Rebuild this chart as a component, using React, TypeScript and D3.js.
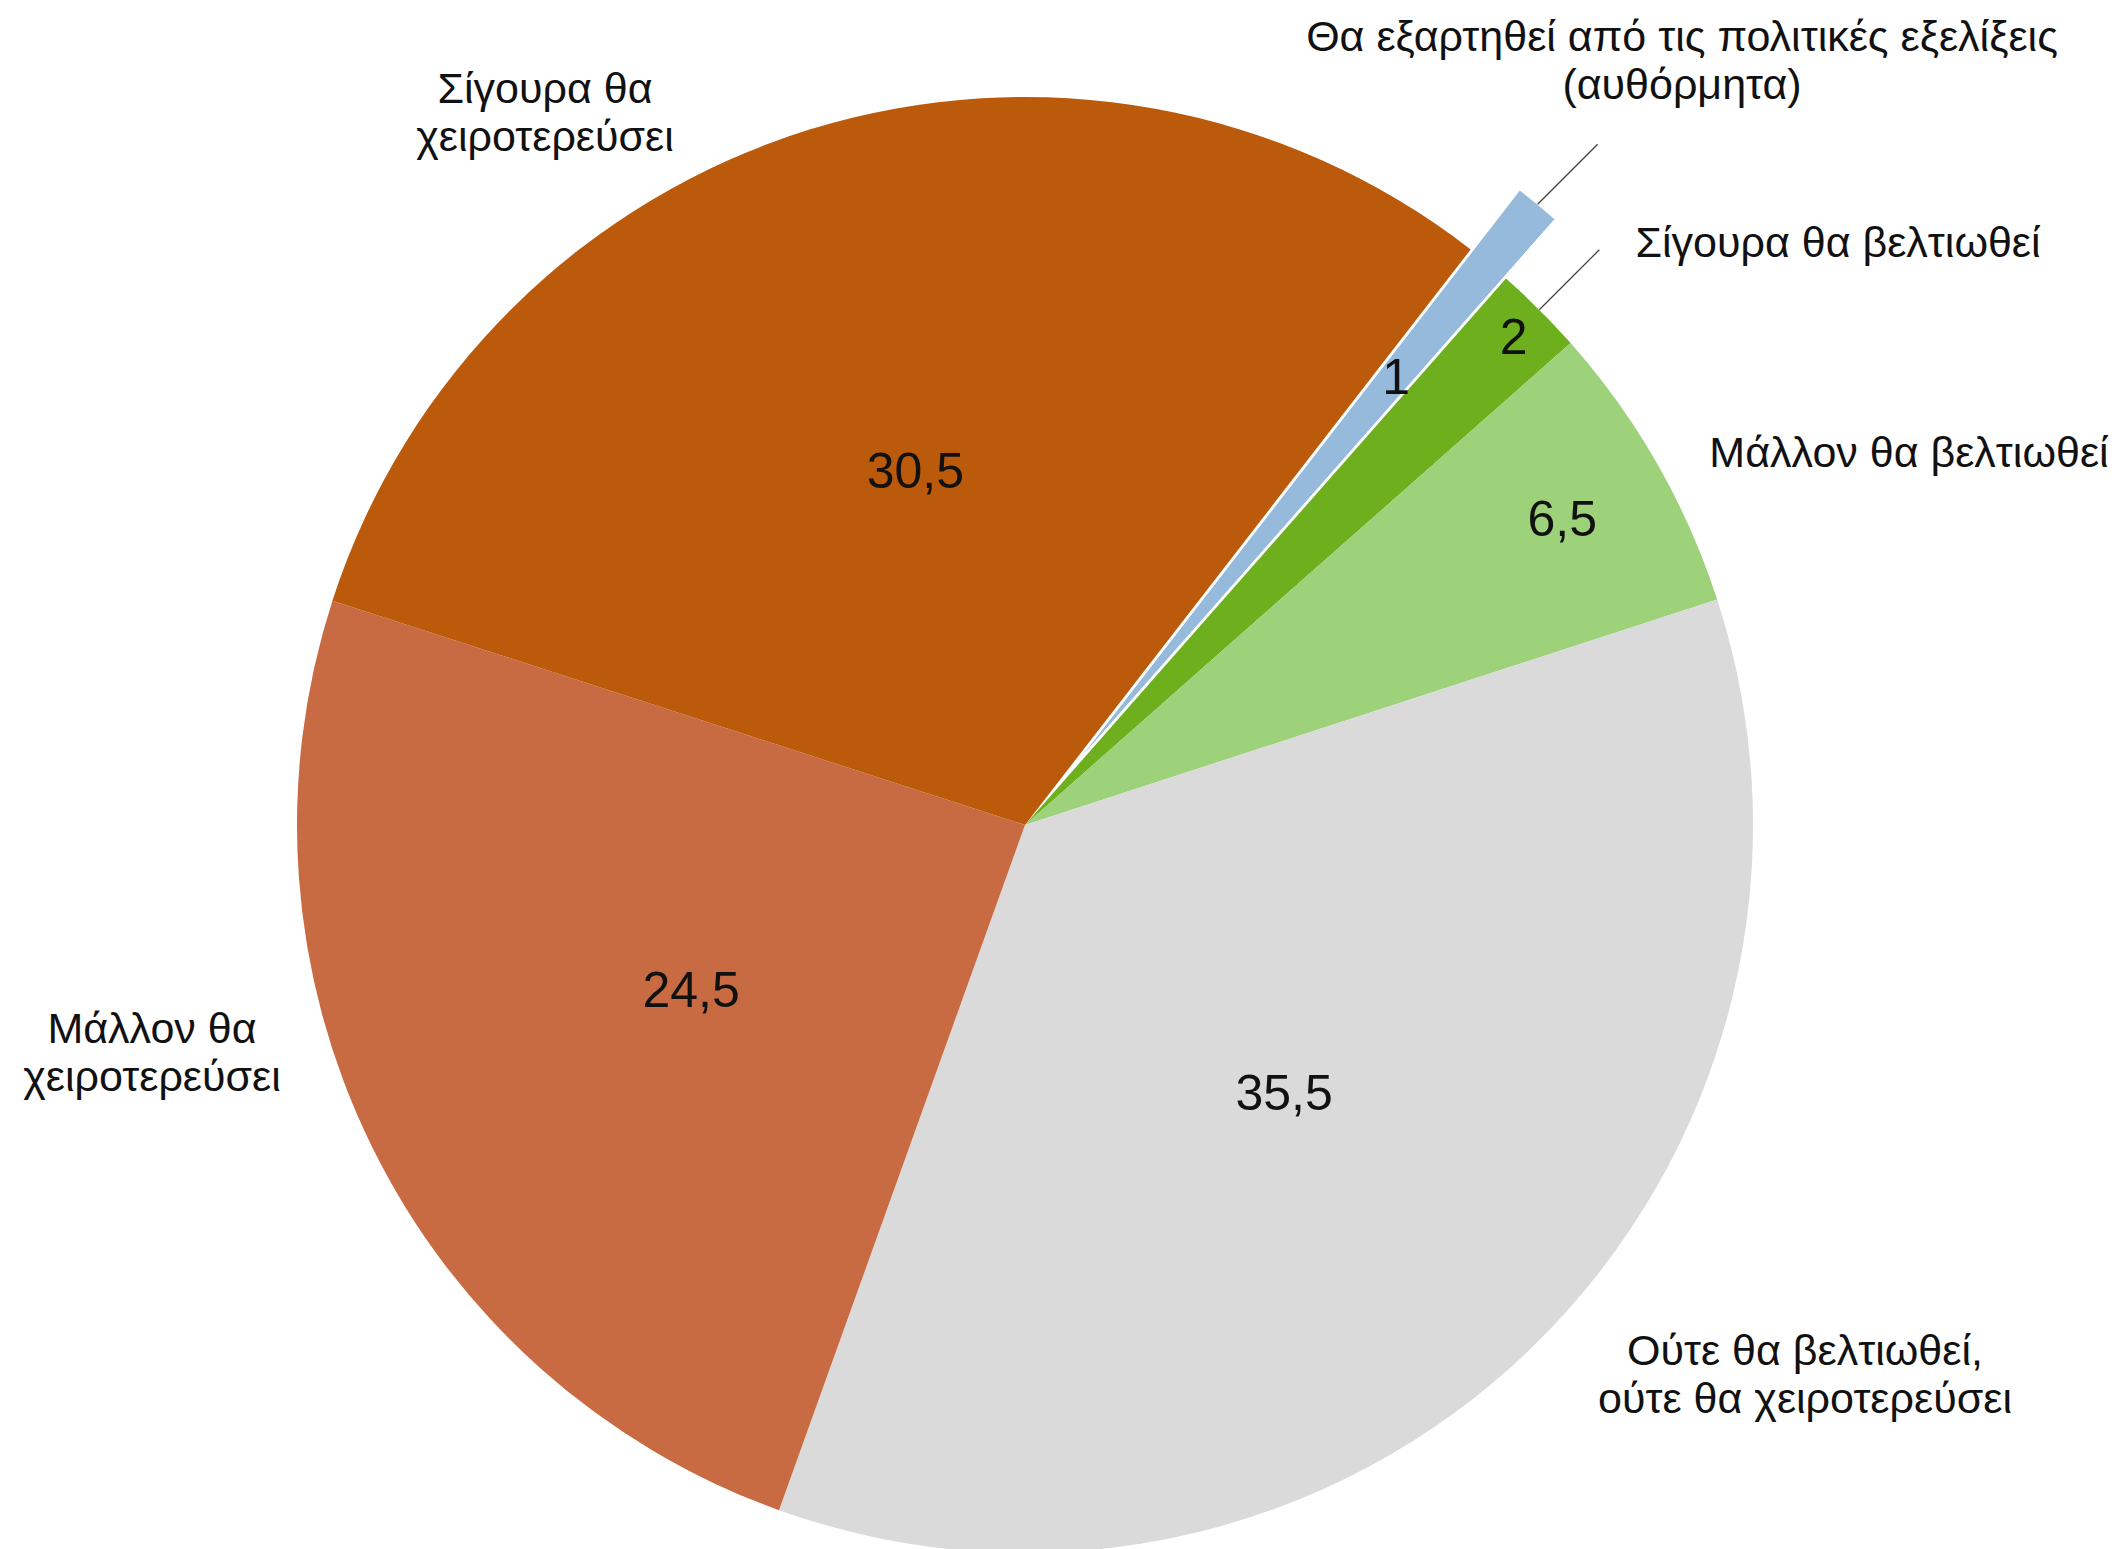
import React from "react";
import * as d3 from "d3";

// ---- data ----
const categories = [
  "Θα εξαρτηθεί από τις πολιτικές εξελίξεις (αυθόρμητα)",
  "Σίγουρα θα βελτιωθεί",
  "Μάλλον θα βελτιωθεί",
  "Ούτε θα βελτιωθεί, ούτε θα χειροτερεύσει",
  "Μάλλον θα χειροτερεύσει",
  "Σίγουρα θα χειροτερεύσει",
];
const values = [1, 2, 6.5, 35.5, 24.5, 30.5];
const valueLabels = ["1", "2", "6,5", "35,5", "24,5", "30,5"];
const categoryLines = [
  ["Θα εξαρτηθεί από τις πολιτικές εξελίξεις", "(αυθόρμητα)"],
  ["Σίγουρα θα βελτιωθεί"],
  ["Μάλλον θα βελτιωθεί"],
  ["Ούτε θα βελτιωθεί,", "ούτε θα χειροτερεύσει"],
  ["Μάλλον θα", "χειροτερεύσει"],
  ["Σίγουρα θα", "χειροτερεύσει"],
];

// ---- styling / layout ----
const colors = ["#96BADB", "#6EAF1E", "#9DD17A", "#DADADA", "#C86B43", "#BC5A0C"];
const explode = [77, 0, 0, 0, 0, 0];
const valueRadius = [0.695, 0.95, 0.85, 0.511, 0.511, 0.511];
const hasLeader = [true, true, false, false, false, false];
const labelPos = [
  { x: 1682, y: 51 },
  { x: 1838, y: 257 },
  { x: 1909, y: 467 },
  { x: 1805, y: 1365 },
  { x: 152, y: 1043 },
  { x: 545, y: 103 },
];

const W = 2121;
const H = 1549;
const cx = 1025;
const cy = 825;
const R = 728;
const startDeg = 37.75;
const FONT = "'Helvetica Neue', 'Liberation Sans', Arial, sans-serif";

export default function App() {
  const pie = d3
    .pie<number>()
    .sort(null)
    .value((d) => d)
    .startAngle((startDeg * Math.PI) / 180)
    .endAngle((startDeg * Math.PI) / 180 + 2 * Math.PI);
  const arcs = pie(values);
  const arc = d3.arc<d3.PieArcDatum<number>>().innerRadius(0).outerRadius(R);

  const mid = (a: d3.PieArcDatum<number>) => (a.startAngle + a.endAngle) / 2;
  const polar = (ang: number, r: number) => [r * Math.sin(ang), -r * Math.cos(ang)];

  return (
    <svg
      width={W}
      height={H}
      style={{ position: "absolute", left: 0, top: 0, background: "#fff" }}
    >
      <g transform={`translate(${cx},${cy})`}>
        {arcs.map((a, i) => {
          const [ox, oy] = polar(mid(a), explode[i]);
          return (
            <path
              key={categories[i]}
              d={arc(a) || ""}
              fill={colors[i]}
              transform={`translate(${ox},${oy})`}
              stroke={explode[i] > 0 ? "#fff" : "none"}
              strokeWidth={explode[i] > 0 ? 1 : 0}
            />
          );
        })}
        {arcs.map((a, i) => {
          if (!hasLeader[i]) return null;
          const [x0, y0] = polar(mid(a), R + explode[i]);
          return (
            <line
              key={"l" + i}
              x1={x0}
              y1={y0}
              x2={x0 + 60}
              y2={y0 - 60}
              stroke="#444"
              strokeWidth={1.3}
            />
          );
        })}
        {arcs.map((a, i) => {
          const [ox, oy] = polar(mid(a), explode[i]);
          const [x, y] = polar(mid(a), R * valueRadius[i]);
          return (
            <text
              key={"v" + i}
              x={x + ox}
              y={y + oy}
              dy="0.36em"
              textAnchor="middle"
              fontFamily={FONT}
              fontSize={50}
              fontWeight={300}
              fill="#111"
            >
              {valueLabels[i]}
            </text>
          );
        })}
      </g>
      {categoryLines.map((lines, i) => (
        <text
          key={"c" + i}
          textAnchor="middle"
          fontFamily={FONT}
          fontSize={43}
          fill="#111"
        >
          {lines.map((ln, j) => (
            <tspan key={j} x={labelPos[i].x} y={labelPos[i].y + j * 48}>
              {ln}
            </tspan>
          ))}
        </text>
      ))}
    </svg>
  );
}
